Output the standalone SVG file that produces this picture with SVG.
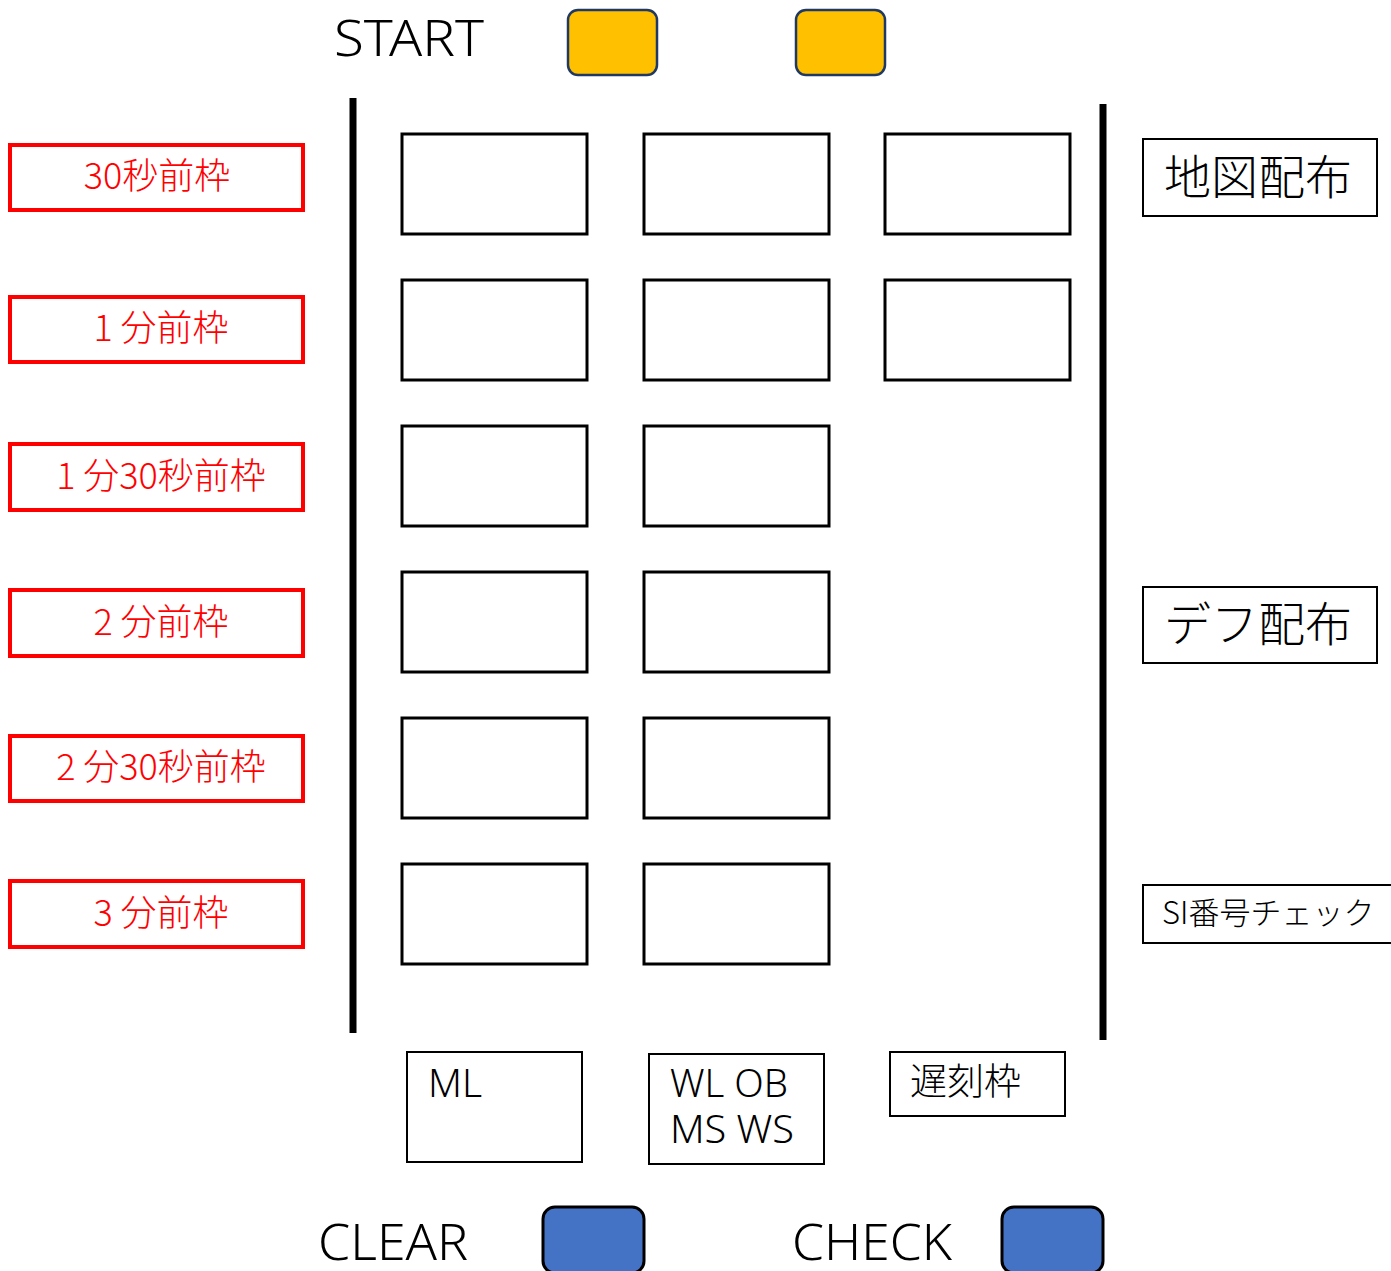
<svg xmlns="http://www.w3.org/2000/svg" width="1391" height="1271" viewBox="0 0 1391 1271">
<style>
text{font-family:"Noto Sans CJK JP","Noto Sans",sans-serif;font-weight:300;}
.lat{font-family:"Noto Sans","Noto Sans CJK JP",sans-serif;font-weight:300;}
.t{fill:#000;}
.red{fill:#FF0000;font-size:36px;text-anchor:middle;}
.rbox{fill:#fff;stroke:#FF0000;stroke-width:4;}
.cell{fill:#fff;stroke:#000;stroke-width:3;}
.box{fill:#fff;stroke:#000;stroke-width:2;}
.ybtn{fill:#FFC000;stroke:#1F3864;stroke-width:2.5;}
.bbtn{fill:#4472C4;stroke:#000;stroke-width:3;}
.bar{stroke:#000;stroke-width:7;}
</style>
<rect width="1391" height="1271" fill="#fff"/>

<g id="start">
<text class="t lat" x="334" y="56" font-size="50" textLength="150" lengthAdjust="spacingAndGlyphs">START</text>
<rect class="ybtn" x="568" y="10" width="89" height="65" rx="10"/>
<rect class="ybtn" x="796" y="10" width="89" height="65" rx="10"/>
</g>

<g id="bars">
<line class="bar" x1="353" y1="98" x2="353" y2="1033"/>
<line class="bar" x1="1103" y1="104" x2="1103" y2="1040"/>
</g>

<g id="grid">
<rect class="cell" x="402" y="134" width="185" height="100"/>
<rect class="cell" x="644" y="134" width="185" height="100"/>
<rect class="cell" x="885" y="134" width="185" height="100"/>
<rect class="cell" x="402" y="280" width="185" height="100"/>
<rect class="cell" x="644" y="280" width="185" height="100"/>
<rect class="cell" x="885" y="280" width="185" height="100"/>
<rect class="cell" x="402" y="426" width="185" height="100"/>
<rect class="cell" x="644" y="426" width="185" height="100"/>
<rect class="cell" x="402" y="572" width="185" height="100"/>
<rect class="cell" x="644" y="572" width="185" height="100"/>
<rect class="cell" x="402" y="718" width="185" height="100"/>
<rect class="cell" x="644" y="718" width="185" height="100"/>
<rect class="cell" x="402" y="864" width="185" height="100"/>
<rect class="cell" x="644" y="864" width="185" height="100"/>
</g>

<g id="label-30s"><rect class="rbox" x="10" y="145" width="293" height="65"/><text class="red" x="157" y="189">30秒前枠</text></g>
<g id="label-1m"><rect class="rbox" x="10" y="297" width="293" height="65"/><text class="red" x="161" y="341">1 分前枠</text></g>
<g id="label-1m30s"><rect class="rbox" x="10" y="444" width="293" height="66"/><text class="red" x="161" y="489">1 分30秒前枠</text></g>
<g id="label-2m"><rect class="rbox" x="10" y="590" width="293" height="66"/><text class="red" x="161" y="635">2 分前枠</text></g>
<g id="label-2m30s"><rect class="rbox" x="10" y="736" width="293" height="65"/><text class="red" x="161" y="780">2 分30秒前枠</text></g>
<g id="label-3m"><rect class="rbox" x="10" y="881" width="293" height="66"/><text class="red" x="161" y="926">3 分前枠</text></g>

<g id="map"><rect class="box" x="1143" y="139" width="234" height="77"/><text class="t" x="1258" y="194" font-size="47" text-anchor="middle">地図配布</text></g>
<g id="def"><rect class="box" x="1143" y="587" width="234" height="76"/><text class="t" x="1258" y="641" font-size="47" text-anchor="middle">デフ配布</text></g>
<g id="si"><rect class="box" x="1143" y="885" width="260" height="58"/><text class="t" x="1162" y="924" font-size="31">SI番号チェック</text></g>

<g id="ml"><rect class="box" x="407" y="1052" width="175" height="110"/><text class="t lat" x="428" y="1097" font-size="38" textLength="54" lengthAdjust="spacingAndGlyphs">ML</text></g>
<g id="wl"><rect class="box" x="649" y="1054" width="175" height="110"/>
<text class="t lat" font-size="38"><tspan x="670" y="1097" textLength="118" lengthAdjust="spacingAndGlyphs">WL OB</tspan><tspan x="670" y="1143" textLength="124" lengthAdjust="spacingAndGlyphs">MS WS</tspan></text></g>
<g id="late"><rect class="box" x="890" y="1052" width="175" height="64"/><text class="t" x="910" y="1095" font-size="37">遅刻枠</text></g>

<g id="clear">
<text class="t lat" x="318" y="1260" font-size="50" textLength="150" lengthAdjust="spacingAndGlyphs">CLEAR</text>
<rect class="bbtn" x="543" y="1207" width="101" height="66" rx="12"/>
</g>
<g id="check">
<text class="t lat" x="792" y="1260" font-size="50" textLength="160" lengthAdjust="spacingAndGlyphs">CHECK</text>
<rect class="bbtn" x="1002" y="1207" width="101" height="66" rx="12"/>
</g>
<g id="connectors"></g>
</svg>
